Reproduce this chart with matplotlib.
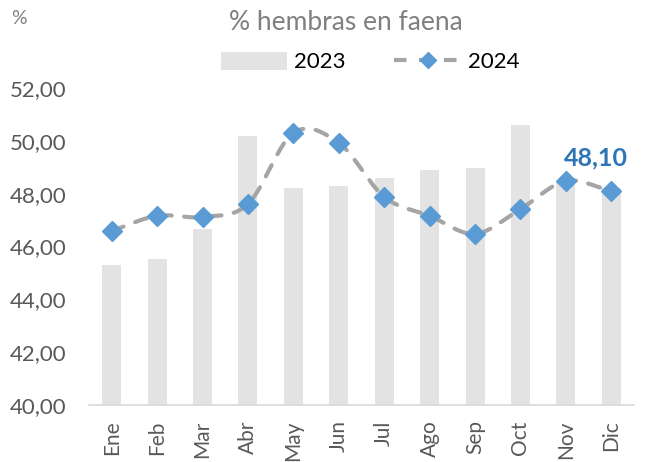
import numpy as np
import matplotlib
matplotlib.use("Agg")
import matplotlib.pyplot as plt
from matplotlib.lines import Line2D
from matplotlib.patches import Patch

months = ["Ene", "Feb", "Mar", "Abr", "May", "Jun", "Jul", "Ago", "Sep", "Oct", "Nov", "Dic"]
vals_2023 = [45.30, 45.53, 46.67, 50.19, 48.22, 48.30, 48.60, 48.90, 48.98, 50.60, 48.40, 48.20]
vals_2024 = [46.59, 47.16, 47.12, 47.61, 50.30, 49.92, 47.88, 47.16, 46.48, 47.42, 48.48, 48.10]
yticks = [40, 42, 44, 46, 48, 50, 52]

plt.rcParams['font.family'] = ['Lato', 'DejaVu Sans']

fig = plt.figure(figsize=(6.45, 4.62), dpi=100)
ax = fig.add_axes([89/645, 57/462, (634-89)/645, (405-88)/462])

x = np.arange(len(months))
ax.bar(x, vals_2023, width=0.42, color="#E3E3E3", zorder=1)

# smooth curve (Catmull-Rom through the data points), like Excel's smoothed line
def catmull(xs, ys, n=20):
    px = np.concatenate([[2*xs[0]-xs[1]], xs, [2*xs[-1]-xs[-2]]])
    py = np.concatenate([[2*ys[0]-ys[1]], ys, [2*ys[-1]-ys[-2]]])
    ox, oy = [], []
    for i in range(1, len(px)-2):
        t = np.linspace(0, 1, n, endpoint=False)
        for arr, out in ((px, ox), (py, oy)):
            p0, p1, p2, p3 = arr[i-1], arr[i], arr[i+1], arr[i+2]
            out.extend(0.5*((2*p1) + (-p0+p2)*t + (2*p0-5*p1+4*p2-p3)*t**2 + (-p0+3*p1-3*p2+p3)*t**3))
    ox.append(xs[-1]); oy.append(ys[-1])
    return np.array(ox), np.array(oy)

sx, sy = catmull(x.astype(float), np.array(vals_2024, dtype=float))
ax.plot(sx, sy, color="#A5A5A5", lw=3, ls=(0, (3, 3)), dash_capstyle="round", zorder=2)
ax.plot(x, vals_2024, ls="none", marker="D", ms=10, color="#5B9BD5", zorder=3)

ax.annotate(f"{vals_2024[-1]:.2f}".replace(".", ","), xy=(x[-1], vals_2024[-1]),
            xytext=(-11, 24), textcoords="offset points", ha="center", va="center",
            fontsize=18, fontweight="bold", color="#2E75B6")

ax.set_xlim(-0.5, 11.5)
ax.set_ylim(40, 52)
ax.set_yticks(yticks)
ax.set_yticklabels([f"{v:.2f}".replace(".", ",") for v in yticks], fontsize=16, color="#595959")
ax.set_xticks(x)
ax.set_xticklabels(months, rotation=90, fontsize=15, color="#595959")
ax.tick_params(axis="y", length=0, pad=16)
ax.tick_params(axis="x", length=0, pad=11)
for s in ["top", "right", "left"]:
    ax.spines[s].set_visible(False)
ax.spines["bottom"].set_color("#D9D9D9")
ax.spines["bottom"].set_linewidth(1.2)

fig.text(346/645, 1-23/462, "% hembras en faena", ha="center", va="center", fontsize=19, color="#808080")
fig.text(19/645, 1-19/462, "%", ha="center", va="center", fontsize=14, color="#808080")

handles = [Patch(facecolor="#E3E3E3", edgecolor="none"),
           Line2D([0], [0], color="#A5A5A5", lw=3, ls=(0, (3, 3)), marker="D", ms=8,
                  markerfacecolor="#5B9BD5", markeredgecolor="#5B9BD5")]
fig.legend(handles, ["2023", "2024"], loc="center", bbox_to_anchor=(370/645, 1-62/462),
           ncol=2, frameon=False, fontsize=16, handlelength=3.0, columnspacing=2.2,
           handletextpad=0.3, handleheight=0.9)

fig.savefig("out.png", dpi=100)
